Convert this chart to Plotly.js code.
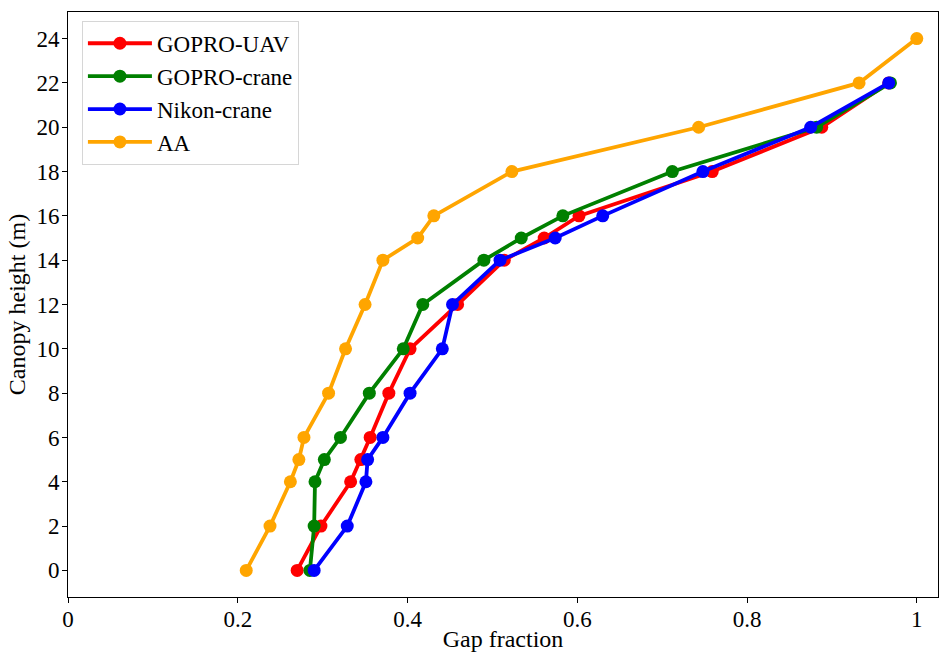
<!DOCTYPE html>
<html>
<head>
<meta charset="utf-8">
<script src="https://cdn.plot.ly/plotly-3.0.1.min.js"></script>
<style>html,body{margin:0;padding:0;background:#fff;}#chart{width:940px;height:652px;}</style>
</head>
<body>
<div id="chart"></div>
<script>
// Canopy heights (m)
const heightsMain = [0, 2, 4, 5, 6, 8, 10, 12, 14, 15, 16, 18, 20, 22];
const heightsAA   = [0, 2, 4, 5, 6, 8, 10, 12, 14, 15, 16, 18, 20, 22, 24];

// Gap fraction series
const gopro_uav   = [0.270, 0.298, 0.333, 0.345, 0.356, 0.378, 0.403, 0.459, 0.514, 0.561, 0.602, 0.759, 0.888, 0.967];
const gopro_crane = [0.285, 0.290, 0.291, 0.302, 0.321, 0.355, 0.395, 0.418, 0.490, 0.534, 0.583, 0.712, 0.882, 0.969];
const nikon_crane = [0.290, 0.329, 0.351, 0.353, 0.371, 0.403, 0.441, 0.453, 0.509, 0.574, 0.630, 0.748, 0.875, 0.967];
const aa          = [0.210, 0.238, 0.262, 0.272, 0.278, 0.307, 0.327, 0.350, 0.371, 0.412, 0.431, 0.523, 0.743, 0.932, 1.000];

const seriesNames = ["GOPRO-UAV", "GOPRO-crane", "Nikon-crane", "AA"];
const seriesColors = ["#ff0000", "#008000", "#0000ff", "#ffa500"];
const xTickVals = [0, 0.2, 0.4, 0.6, 0.8, 1];
const xTickText = ["0", "0.2", "0.4", "0.6", "0.8", "1"];
const yTickVals = [0, 2, 4, 6, 8, 10, 12, 14, 16, 18, 20, 22, 24];

const xs = [gopro_uav, gopro_crane, nikon_crane, aa];
const ys = [heightsMain, heightsMain, heightsMain, heightsAA];

const traces = xs.map((x, i) => ({
  x: x, y: ys[i], name: seriesNames[i], type: "scatter", mode: "lines+markers",
  line: {color: seriesColors[i], width: 3.8},
  marker: {color: seriesColors[i], size: 13}
}));

const FAM = "'Liberation Serif', 'Times New Roman', Times, serif";
const font = {family: FAM, color: "#000"};

const layout = {
  width: 940, height: 652,
  margin: {l: 68, r: 2, t: 12, b: 55},
  paper_bgcolor: "#fff", plot_bgcolor: "#fff",
  showlegend: true,
  font: Object.assign({size: 23}, font),
  xaxis: {
    range: [0, 1.025], tickvals: xTickVals, ticktext: xTickText,
    ticks: "outside", ticklen: 5, tickwidth: 1, tickcolor: "#000",
    showgrid: false, zeroline: false, showline: true, linecolor: "#000", linewidth: 1, mirror: true,
    tickfont: Object.assign({size: 23}, font), ticklabelstandoff: -4,
    title: {text: "Gap fraction", font: Object.assign({size: 24}, font), standoff: 2}
  },
  yaxis: {
    range: [-1.2, 25.2], tickvals: yTickVals,
    ticks: "outside", ticklen: 5, tickwidth: 1, tickcolor: "#000",
    showgrid: false, zeroline: false, showline: true, linecolor: "#000", linewidth: 1, mirror: true,
    tickfont: Object.assign({size: 23}, font), ticklabelstandoff: -2,
    title: {text: "Canopy height (m)", font: Object.assign({size: 24}, font), standoff: 4}
  },
  legend: {
    x: 0.016, y: 0.985, xanchor: "left", yanchor: "top",
    bgcolor: "rgba(255,255,255,0.8)", bordercolor: "#d6d6d6", borderwidth: 1,
    font: Object.assign({size: 23}, font),
    tracegroupgap: 0, itemwidth: 64
  }
};

Plotly.newPlot("chart", traces, layout, {displayModeBar: false, staticPlot: true});
</script>
</body>
</html>
